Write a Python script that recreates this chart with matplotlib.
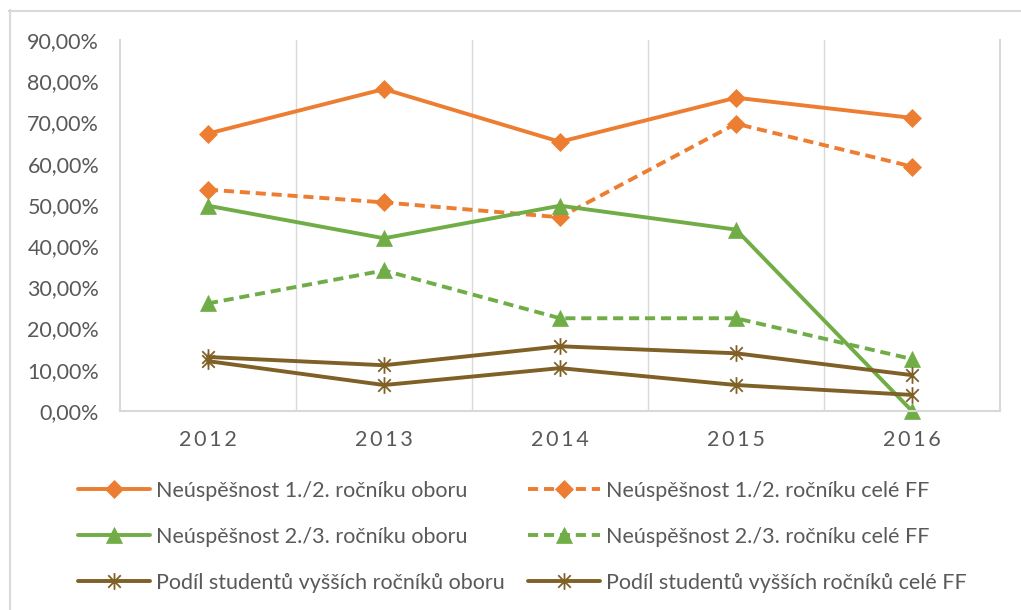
import matplotlib
matplotlib.use("Agg")
import matplotlib.pyplot as plt
from matplotlib.path import Path
from matplotlib.lines import Line2D
from matplotlib.ticker import FuncFormatter

years = ["2012", "2013", "2014", "2015", "2016"]
neu12_obor = [0.673, 0.781, 0.653, 0.760, 0.711]
neu12_ff = [0.537, 0.506, 0.470, 0.697, 0.593]
neu23_obor = [0.498, 0.419, 0.498, 0.440, 0.000]
neu23_ff = [0.261, 0.341, 0.225, 0.225, 0.126]
podil_obor = [0.131, 0.111, 0.157, 0.140, 0.087]
podil_ff = [0.121, 0.063, 0.104, 0.063, 0.039]

labels = [
    "Neúspěšnost 1./2. ročníku oboru",
    "Neúspěšnost 1./2. ročníku celé FF",
    "Neúspěšnost 2./3. ročníku oboru",
    "Neúspěšnost 2./3. ročníku celé FF",
    "Podíl studentů vyšších ročníků oboru",
    "Podíl studentů vyšších ročníků celé FF",
]

ORANGE = "#ED7D31"
GREEN = "#70AD47"
BROWN = "#7F6026"
GRID = "#D9D9D9"
TXT = "#595959"
FONT = ["Lato", "DejaVu Sans"]
FS = 15.5

plt.rcParams["font.family"] = FONT

star = Path([(0, -1), (0, 1), (-0.75, -0.75), (0.75, 0.75), (-0.75, 0.75), (0.75, -0.75)],
            [Path.MOVETO, Path.LINETO, Path.MOVETO, Path.LINETO, Path.MOVETO, Path.LINETO])

fig = plt.figure(figsize=(10.21, 6.10), dpi=100)
W, H = 1021, 610
ax = fig.add_axes([120 / W, 1 - 411 / H, 880 / W, 371 / H])

x = list(range(len(years)))
lw = 2.8
dash = (2.6, 1.5)
series = [
    (neu12_obor, ORANGE, "-", "D", 9.5),
    (neu12_ff, ORANGE, "--", "D", 9.5),
    (neu23_obor, GREEN, "-", "^", 11),
    (neu23_ff, GREEN, "--", "^", 11),
    (podil_obor, BROWN, "-", star, 12),
    (podil_ff, BROWN, "-", star, 12),
]
handles = []
for (vals, col, ls, mk, ms), lab in zip(series, labels):
    kw = dict(color=col, lw=lw, marker=mk, markersize=ms, markerfacecolor=col,
              markeredgecolor=col, label=lab, solid_capstyle="round", clip_on=False)
    kw["markeredgewidth"] = 1.3 if mk is star else 0.5
    (h,) = ax.plot(x, vals, **kw)
    if ls == "--":
        h.set_linestyle((0, dash))
        h.set_dash_capstyle("butt")
    handles.append(h)

ax.set_xlim(-0.5, 4.5)
ax.set_ylim(0, 0.9)
ax.set_yticks([i / 10 for i in range(10)])
ax.yaxis.set_major_formatter(FuncFormatter(lambda v, p: f"{v*100:.2f}%".replace(".", ",")))
ax.set_xticks(x)
ax.set_xticklabels(["\u2009".join(y) for y in years])
for b in [0.5, 1.5, 2.5, 3.5]:
    ax.axvline(b, color=GRID, lw=1.0, zorder=0)
ax.spines["top"].set_visible(False)
for s in ["left", "right", "bottom"]:
    ax.spines[s].set_color(GRID)
    ax.spines[s].set_linewidth(1.5)
ax.tick_params(axis="both", length=0, colors=TXT, labelsize=FS)
ax.tick_params(axis="x", pad=14)
ax.tick_params(axis="y", pad=15)

# chart outer frame
fig.add_artist(Line2D([9.5 / W, 9.5 / W], [0, 1 - 10 / H], color=GRID, lw=1.5, transform=fig.transFigure))
fig.add_artist(Line2D([9 / W, 1], [1 - 10.5 / H, 1 - 10.5 / H], color=GRID, lw=1.5, transform=fig.transFigure))

cols = [([0, 2, 4], 78), ([1, 3, 5], 528)]
for idx, x0 in cols:
    leg = fig.legend([handles[i] for i in idx], [labels[i] for i in idx], ncol=1,
                     loc="upper left", bbox_to_anchor=(x0 / W, 1 - 481 / H), frameon=False,
                     fontsize=FS, handlelength=3.35, handletextpad=0.25,
                     labelspacing=1.2, borderpad=0, borderaxespad=0)
    for t in leg.get_texts():
        t.set_color(TXT)

fig.savefig("out.png", dpi=100)
